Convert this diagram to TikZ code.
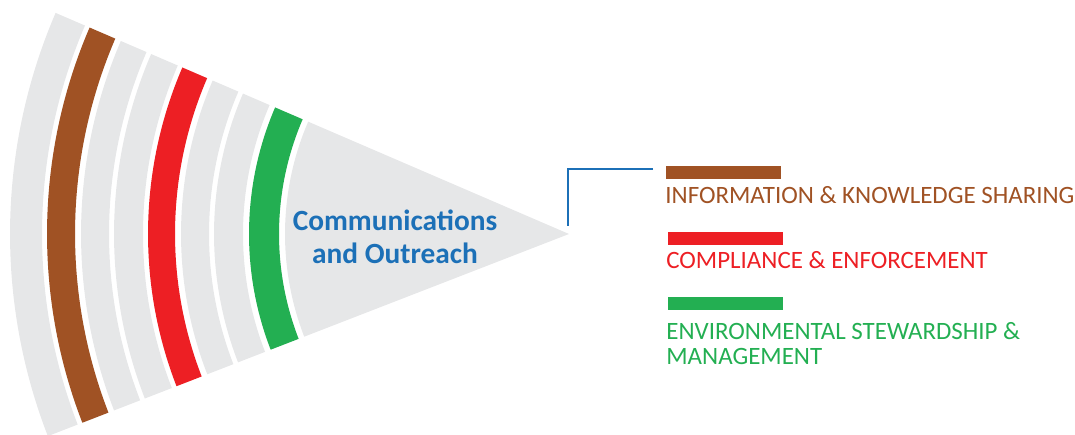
\documentclass[tikz,border=0pt]{standalone}
\usepackage{fontspec}
\setmainfont{Carlito}
\usetikzlibrary{positioning}

\definecolor{fangray}{RGB}{230,231,232}
\definecolor{infobrown}{RGB}{160,82,36}
\definecolor{compred}{RGB}{237,31,36}
\definecolor{envgreen}{RGB}{35,175,82}
\definecolor{commblue}{RGB}{28,112,183}

\begin{document}
\begin{tikzpicture}[x=0.02cm, y=0.02cm]

	% Styles
	\tikzset{
		legbar/.style={
			rectangle, inner sep=0pt,
			minimum width=2.3cm, minimum height=0.26cm
		},
		legtext/.style={
			inner sep=0pt, anchor=base west, align=left,
			font=\fontsize{14.2}{14.7}\selectfont
		},
		commtext/.style={
			inner sep=0pt, align=center, text=commblue,
			font=\fontsize{16.7}{18.7}\selectfont\bfseries
		},
		link/.style={draw=commblue, line width=0.85pt}
	}

	\useasboundingbox (0,0) rectangle (1075,435);

	% Fan bands
	\coordinate (apex) at (569,201);
	\foreach \ro/\ri/\col in {559/527/fangray, 522/494/infobrown, 488/460/fangray,
		455/426/fangray, 421/394/compred, 388/360/fangray, 355/326/fangray, 320/290/envgreen}{
		\fill[\col] ([shift={(apex)}]156.7:\ro) arc[start angle=156.7, end angle=201.2, radius=\ro]
			-- ([shift={(apex)}]201.2:\ri) arc[start angle=201.2, end angle=156.7, radius=\ri] -- cycle;
	}
	\fill[fangray] (apex) -- ([shift={(apex)}]156.7:284)
		arc[start angle=156.7, end angle=201.2, radius=284] -- cycle;

	% Centre label
	\node[commtext] (comm) at (395,198) {Communications\\and Outreach};

	% Legend
	\node[legbar, fill=infobrown] (infobar) at (723.5,262.5) {};
	\node[legtext, text=infobrown] (infotext) at (665,231) {INFORMATION \& KNOWLEDGE SHARING};
	\node[legbar, fill=compred] (compbar) at (725.5,196.5) {};
	\node[legtext, text=compred] (comptext) at (666,166) {COMPLIANCE \& ENFORCEMENT};
	\node[legbar, fill=envgreen] (envbar) at (725.5,131.5) {};
	\node[legtext, text=envgreen] (envtext) at (666,70) {ENVIRONMENTAL STEWARDSHIP \&\\MANAGEMENT};

	% Connector
	\coordinate (linkstart) at (653,266);
	\coordinate (linkend) at (568,209);
	\draw[link] (linkstart) -| (linkend);

\end{tikzpicture}
\end{document}
